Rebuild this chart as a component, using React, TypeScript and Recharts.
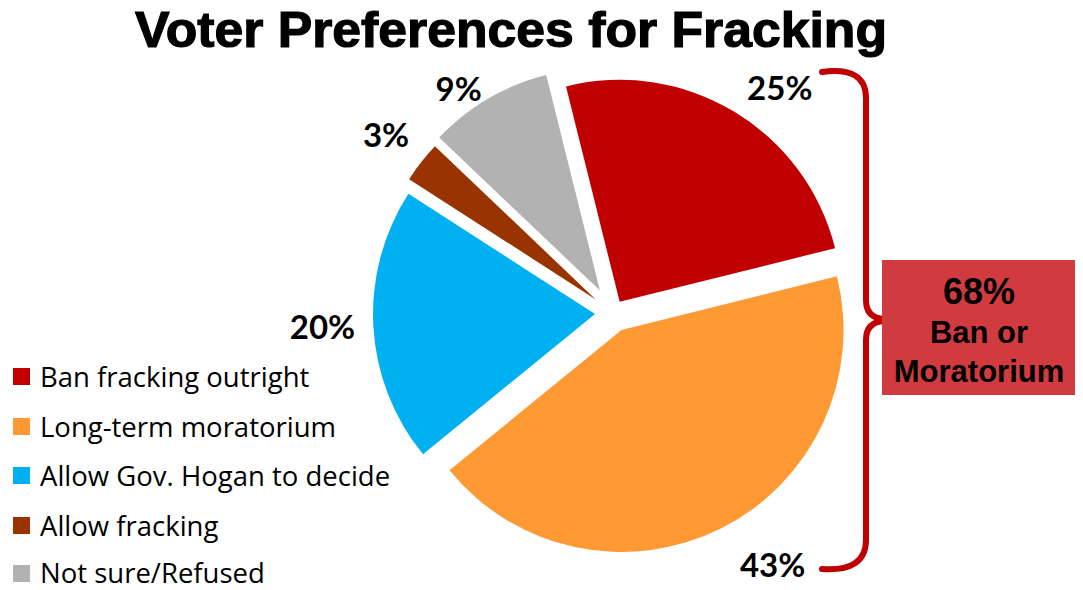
import { Cell, Legend, Pie, PieChart } from 'recharts';

const categories = [
  'Ban fracking outright',
  'Long-term moratorium',
  'Allow Gov. Hogan to decide',
  'Allow fracking',
  'Not sure/Refused',
];
const shares = [25, 43, 20, 3, 9];

// styling
const sliceColors = ['#C00000', '#FF9933', '#00B0F0', '#993300', '#B2B2B2'];
const explode = [13, 19, 18, 22, 26];
const labelNudge: [number, number][] = [[20, 18], [32, -4], [-6, -3], [-3, -3], [-11, 21]];

const START = 104; // recharts degrees, 14° left of 12 o'clock
const RAD = Math.PI / 180;

const chartData = categories.map((name, i) => ({ name, value: shares[i] }));
const total = shares.reduce((a, b) => a + b, 0);

// mid angle of each slice, clockwise from 12 o'clock, used to push slices outward
const midAngles = shares.map((v, i) => {
  const before = shares.slice(0, i).reduce((a, b) => a + b, 0);
  return -14 + (360 * (before + v / 2)) / total;
});

const labelFont = 'Lato, "Open Sans", sans-serif';

function PercentLabel(props: any) {
  const { cx, cy, midAngle, outerRadius, index, value } = props;
  const r = outerRadius + 63;
  const [nx, ny] = labelNudge[index] ?? [0, 0];
  const x = cx + r * Math.cos(-midAngle * RAD) + nx;
  const y = cy + r * Math.sin(-midAngle * RAD) + ny;
  return (
    <text
      x={x}
      y={y}
      textAnchor="middle"
      dominantBaseline="central"
      fontFamily={labelFont}
      fontWeight={700}
      fontSize={33}
      fill="#000"
    >
      {`${value}%`}
    </text>
  );
}

function LegendList({ payload }: any) {
  // keep the order of the data, not the alphabetical one
  const items = [...(payload ?? [])].sort(
    (a: any, b: any) => categories.indexOf(a.value) - categories.indexOf(b.value),
  );
  return (
    <div style={{ fontFamily: '"Open Sans", sans-serif', fontSize: 27.5, lineHeight: 1, color: '#000' }}>
      {items.map((item: any, i: number) => (
        <div
          key={item.value}
          style={{ display: 'flex', alignItems: 'center', height: i === items.length - 1 ? 46 : 49.5 }}
        >
          <span
            style={{
              display: 'inline-block',
              width: 17,
              height: 17,
              marginLeft: 13,
              marginRight: 10,
              background: item.color ?? sliceColors[categories.indexOf(item.value)],
            }}
          />
          <span style={{ whiteSpace: 'nowrap' }}>{item.value}</span>
        </div>
      ))}
    </div>
  );
}

export default function App() {
  const banOrMoratorium = shares[0] + shares[1];
  return (
    <div style={{ position: 'absolute', left: 0, top: 0, width: 1083, height: 590, background: '#fff' }}>
      <PieChart width={1083} height={590} margin={{ top: 0, right: 0, bottom: 0, left: 0 }}>
        <Pie
          data={chartData}
          dataKey="value"
          nameKey="name"
          cx={613}
          cy={313}
          outerRadius={222}
          startAngle={START}
          endAngle={START - 360}
          stroke="none"
          labelLine={false}
          label={PercentLabel}
          isAnimationActive={false}
        >
          {chartData.map((d, i) => {
            const a = midAngles[i] * RAD;
            const dx = explode[i] * Math.sin(a);
            const dy = -explode[i] * Math.cos(a);
            return <Cell key={d.name} fill={sliceColors[i]} transform={`translate(${dx}, ${dy})`} />;
          })}
        </Pie>
        <Legend
          layout="vertical"
          align="center"
          verticalAlign="middle"
          wrapperStyle={{ left: 0, top: 352, width: 440 }}
          content={LegendList}
        />
      </PieChart>

      <svg
        width={1083}
        height={590}
        style={{ position: 'absolute', left: 0, top: 0, pointerEvents: 'none' }}
      >
        <text
          x={511}
          y={47}
          textAnchor="middle"
          fontFamily='"Liberation Sans", Arial, sans-serif'
          fontWeight={700}
          fontSize={50}
          textLength={752}
          lengthAdjust="spacingAndGlyphs"
          fill="#000"
          stroke="#000"
          strokeWidth={1.2}
        >
          Voter Preferences for Fracking
        </text>

        <path
          d="M822,72 Q866,66 866,98 L866,300 Q866,318 884,319 L918,320 M884,321 Q866,322 866,340 L866,540 Q866,572 822,569"
          fill="none"
          stroke="#C00000"
          strokeWidth={6}
          strokeLinecap="round"
        />

        <rect x={882} y={260} width={193} height={135} fill="#D13B40" />
        <g fontFamily='"Liberation Sans", Arial, sans-serif' fontWeight={700} fill="#000" textAnchor="middle">
          <text x={979} y={304} fontSize={36}>{`${banOrMoratorium}%`}</text>
          <text x={979} y={343} fontSize={31}>Ban or</text>
          <text x={979} y={382} fontSize={31}>Moratorium</text>
        </g>
      </svg>
    </div>
  );
}
